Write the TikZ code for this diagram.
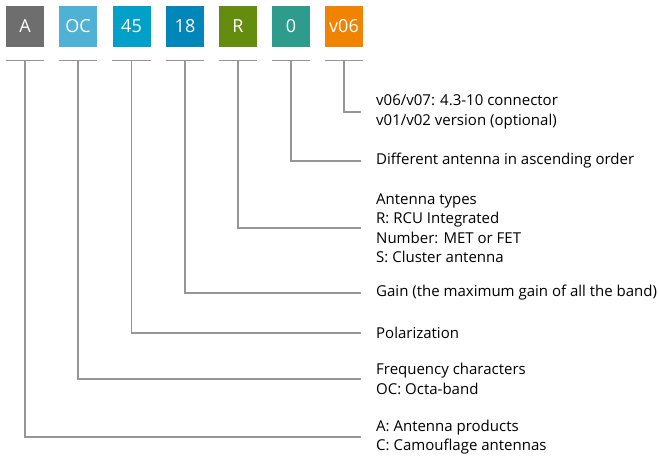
\documentclass[tikz,border=0pt]{standalone}
\usepackage{fontspec}
\setmainfont{Open Sans}
\definecolor{cA}{HTML}{6E6E6E}
\definecolor{cOC}{HTML}{4FB1D3}
\definecolor{cBand}{HTML}{00A0C8}
\definecolor{cGain}{HTML}{0086B9}
\definecolor{cType}{HTML}{648C0E}
\definecolor{cNum}{HTML}{2E9C8C}
\definecolor{cVer}{HTML}{F08300}
\definecolor{cLine}{HTML}{969696}
\begin{document}
\begin{tikzpicture}[x=1pt, y=-1pt,
  codebox/.style={fill=#1, text=white, minimum width=38pt, minimum height=41pt, inner sep=0pt,
    font=\fontsize{18}{18}\selectfont},
  desc/.style={anchor=west, align=left, inner xsep=15pt, inner ysep=0pt,
    font=\fontsize{15}{19.5}\selectfont},
  lead/.style={draw=cLine, line width=1.2pt}]
\useasboundingbox (0,0) rectangle (659,461);
% code boxes
\node[codebox=cA]    (bA)   at (25,26.5)  {A};
\node[codebox=cOC]   (bOC)  at (78,26.5)  {OC};
\node[codebox=cBand] (b45)  at (131.5,26.5) {45};
\node[codebox=cGain] (b18)  at (185,26.5) {18};
\node[codebox=cType] (bR)   at (238,26.5) {R};
\node[codebox=cNum]  (b0)   at (291,26.5) {0};
\node[codebox=cVer]  (bv06) at (344,26.5) {v06};
% descriptions
\node[desc] (dv06) at (361,112) {v06/v07: 4.3-10 connector\\v01/v02 version (optional)};
\node[desc] (d0)   at (361,161) {Different antenna in ascending order};
\node[desc] (dR)   at (361,228) {Antenna types\\R: RCU Integrated\\Number: MET or FET\\S: Cluster antenna};
\node[desc] (d18)  at (361,293) {Gain (the maximum gain of all the band)};
\node[desc] (d45)  at (361,333) {Polarization};
\node[desc] (dOC)  at (361,379) {Frequency characters\\OC: Octa-band};
\node[desc] (dA)   at (361,437) {A: Antenna products\\C: Camouflage antennas};
% leaders
\foreach \b/\d in {bA/dA, bOC/dOC, b45/d45, b18/d18, bR/dR, b0/d0, bv06/dv06} {
  \draw[lead] ([yshift=-13pt]\b.south west) -- ([yshift=-13pt]\b.south east);
  \draw[lead] ([yshift=-13pt]\b.south) |- (\d.west);
}
\end{tikzpicture}
\end{document}
